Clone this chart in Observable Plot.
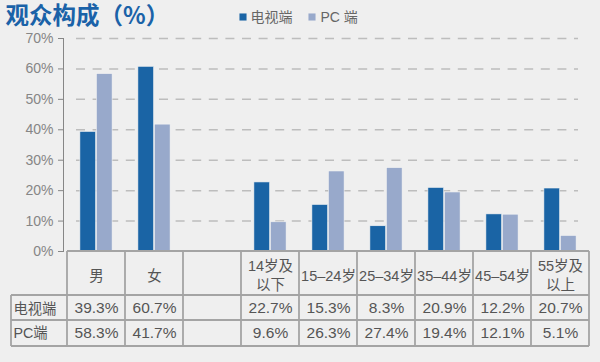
<!DOCTYPE html>
<html>
<head>
<meta charset="utf-8">
<script src="https://cdn.jsdelivr.net/npm/d3@7"></script>
<script src="https://cdn.jsdelivr.net/npm/@observablehq/plot@0.6"></script>
<style>
  html, body { margin: 0; padding: 0; background: #efefef; }
  #chart { width: 600px; height: 362px; }
</style>
</head>
<body>
<div id="chart"></div>
<script>
const categories = ["男", "女", "", "14岁及\n以下", "15–24岁", "25–34岁", "35–44岁", "45–54岁", "55岁及\n以上"];
const tvValues = [39.3, 60.7, null, 22.7, 15.3, 8.3, 20.9, 12.2, 20.7];
const pcValues = [58.3, 41.7, null, 9.6, 26.3, 27.4, 19.4, 12.1, 5.1];
const seriesNames = ["电视端", "PC 端"];
const rowLabels = ["电视端", "PC端"];
const yTicks = [0, 10, 20, 30, 40, 50, 60, 70];
const titleText = "观众构成（%）";

const colors = {tv: "#1a64a5", pc: "#98a9cb"};
const font = "'Liberation Sans', Arial, 'Noto Sans CJK SC', sans-serif";

const tvData = categories.map((c, i) => ({cat: c, value: tvValues[i]})).filter(d => d.value != null);
const pcData = categories.map((c, i) => ({cat: c, value: pcValues[i]})).filter(d => d.value != null);

const W = 600, H = 362, mL = 63, mR = 8, mT = 38, mB = 111;
const step = (W - mL - mR) / categories.length;
const barW = 16.5;
const outer = step / 2 - barW;

const plot = Plot.plot({
  width: W,
  height: H,
  marginLeft: mL,
  marginRight: mR,
  marginTop: mT,
  marginBottom: mB,
  style: {background: "transparent", fontFamily: font, fontSize: "14px", color: "#868686", overflow: "visible"},
  x: {domain: categories, padding: 0, axis: null},
  y: {domain: [0, 70], ticks: yTicks, tickFormat: d => d + "%", tickSize: 5, tickPadding: 5, line: true, label: null},
  marks: [
    Plot.ruleY(yTicks.filter(d => d > 0), {y: d => d, stroke: "#bdbdbd", strokeWidth: 1.5, strokeDasharray: "9,7.6", insetLeft: 13, insetRight: 14}),
    Plot.barY(tvData, {x: "cat", y: "value", fill: colors.tv, stroke: "#f4f4f4", strokeWidth: 0.6, insetLeft: outer, insetRight: step / 2}),
    Plot.barY(pcData, {x: "cat", y: "value", fill: colors.pc, stroke: "#f4f4f4", strokeWidth: 0.6, insetLeft: step / 2, insetRight: outer}),
    // table header
    Plot.text(categories, {x: d => d, text: d => d, frameAnchor: "bottom", lineAnchor: "middle", dy: 23, fontSize: 14.5, fill: "#555", lineHeight: 1.31}),
    // table values
    Plot.text(tvData, {x: "cat", text: d => d.value.toFixed(1) + "%", frameAnchor: "bottom", lineAnchor: "middle", dy: 57, fontSize: 15.5, fill: "#555"}),
    Plot.text(pcData, {x: "cat", text: d => d.value.toFixed(1) + "%", frameAnchor: "bottom", lineAnchor: "middle", dy: 81.5, fontSize: 15.5, fill: "#555"}),
    // row labels
    Plot.text([rowLabels[0]], {frameAnchor: "bottom-left", lineAnchor: "middle", dx: -50, dy: 57.5, textAnchor: "start", fontSize: 14.3, fill: "#555"}),
    Plot.text([rowLabels[1]], {frameAnchor: "bottom-left", lineAnchor: "middle", dx: -50, dy: 82, textAnchor: "start", fontSize: 14.3, fill: "#555"}),
    // title
    Plot.text([titleText], {frameAnchor: "top-left", lineAnchor: "middle", dx: -58, dy: 15.5 - mT, textAnchor: "start", fontSize: 23.5, fontWeight: "bold", fontFamily: "'Noto Sans CJK SC', sans-serif", fill: "#1a62a8"}),
    // legend
    Plot.dot([seriesNames[0]], {frameAnchor: "top-left", dx: 242.5 - mL, dy: 16.5 - mT, symbol: "square", r: 4, fill: colors.tv}),
    Plot.text([seriesNames[0]], {frameAnchor: "top-left", lineAnchor: "middle", dx: 250 - mL, dy: 17 - mT, textAnchor: "start", fontSize: 14, fill: "#666"}),
    Plot.dot([seriesNames[1]], {frameAnchor: "top-left", dx: 311.5 - mL, dy: 16.5 - mT, symbol: "square", r: 4, fill: colors.pc}),
    Plot.text([seriesNames[1]], {frameAnchor: "top-left", lineAnchor: "middle", dx: 320 - mL, dy: 17 - mT, textAnchor: "start", fontSize: 14, fill: "#666"})
  ]
});

document.getElementById("chart").appendChild(plot);

// table grid lines derived from the plot's scales
const sx = plot.scale("x");
const sy = plot.scale("y");
const xAt = c => sx.apply ? sx.apply(c) : sx.range[0] + sx.domain.indexOf(c) * sx.step;
const bw = sx.bandwidth != null ? sx.bandwidth : step;
const y0 = sy.apply ? sy.apply(0) : H - mB;
const r1 = y0 + 44, r2 = y0 + 69, r3 = y0 + 95;
const xL = 11;
const xStart = xAt(categories[0]);
const xEnd = xAt(categories[categories.length - 1]) + bw;
const svg = d3.select(plot);
const g = svg.append("g").attr("stroke", "#a4a4a4").attr("stroke-width", 1.8).attr("fill", "none");
g.append("line").attr("x1", xStart).attr("x2", xEnd).attr("y1", y0).attr("y2", y0);
[r1, r2, r3].forEach(y => g.append("line").attr("x1", xL).attr("x2", xEnd).attr("y1", y).attr("y2", y));
g.append("line").attr("x1", xL).attr("x2", xL).attr("y1", r1).attr("y2", r3);
categories.forEach(c => {
  const x = xAt(c);
  g.append("line").attr("x1", x).attr("x2", x).attr("y1", y0).attr("y2", r3);
});
g.append("line").attr("x1", xEnd).attr("x2", xEnd).attr("y1", y0).attr("y2", r3);
</script>
</body>
</html>
